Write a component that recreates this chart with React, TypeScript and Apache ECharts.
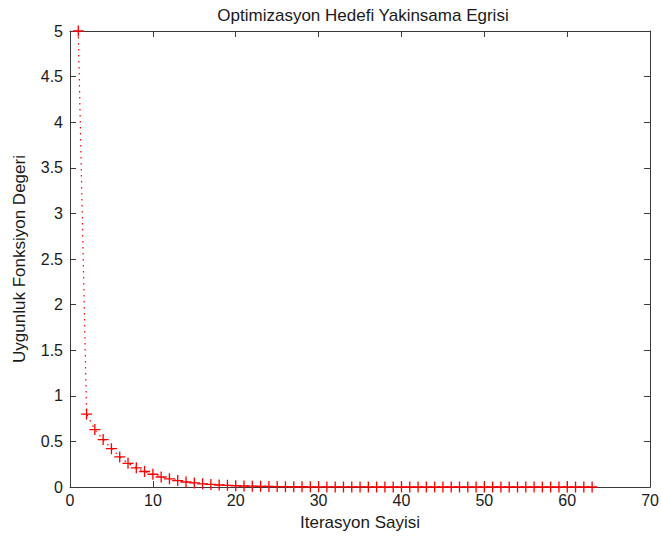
import React, { useEffect, useRef } from "react";
import * as echarts from "echarts";

const iterations: number[] = Array.from({ length: 63 }, (_, i) => i + 1);
const fitnessValues: number[] = [
  5, 0.8, 0.63, 0.52, 0.42, 0.33, 0.26, 0.21, 0.17, 0.14,
  0.11, 0.09, 0.07, 0.055, 0.045, 0.035, 0.028, 0.022, 0.018, 0.014,
  0.011, 0.009, 0.007, 0.006, 0.005, 0.004, 0.003, 0.0025, 0.002, 0.0016,
  0.0013, 0.001, 0.0008, 0.0007, 0.0005, 0.0004, 0.0003, 0.0003, 0.0002, 0.0002,
  0.0001, 0.0001, 0.0001, 0.0001, 0.0001, 0, 0, 0, 0, 0,
  0, 0, 0, 0, 0, 0, 0, 0, 0, 0,
  0, 0, 0,
];
const xTicks = { min: 0, max: 70, interval: 10 };
const yTicks = { min: 0, max: 5, interval: 0.5 };

const FONT = "'Liberation Sans', Arial, sans-serif";
const AXIS_COLOR = "#3a3a3a";
const TEXT_COLOR = "#1a1a1a";
const PLUS = "path://M4.4,0H5.6V4.4H10V5.6H5.6V10H4.4V5.6H0V4.4H4.4Z";

export default function App() {
  const ref = useRef<HTMLDivElement>(null);
  useEffect(() => {
    if (!ref.current) return;
    const chart = echarts.init(ref.current, null, { renderer: "svg" });
    const axisLine = { show: true, onZero: false, lineStyle: { color: AXIS_COLOR, width: 1 } };
    const axisTick = { show: true, inside: true, length: 6, lineStyle: { color: AXIS_COLOR } };
    chart.setOption({
      animation: false,
      backgroundColor: "#fff",
      title: {
        text: "Optimizasyon Hedefi Yakinsama Egrisi",
        left: 358,
        textAlign: "center",
        top: 2,
        textStyle: { fontFamily: FONT, fontSize: 17, fontWeight: "normal", color: TEXT_COLOR },
      },
      grid: { left: 70, right: 8, top: 31, bottom: 58 },
      xAxis: [
        {
          type: "value",
          ...xTicks,
          name: "Iterasyon Sayisi",
          nameLocation: "middle",
          nameGap: 27,
          nameTextStyle: { fontFamily: FONT, fontSize: 17, color: TEXT_COLOR },
          axisLine,
          axisTick,
          splitLine: { show: false },
          axisLabel: { fontFamily: FONT, fontSize: 16, color: TEXT_COLOR, margin: 5 },
        },
        {
          type: "value",
          ...xTicks,
          position: "top",
          axisLine,
          axisTick,
          splitLine: { show: false },
          axisLabel: { show: false },
        },
      ],
      yAxis: [
        {
          type: "value",
          ...yTicks,
          name: "Uygunluk Fonksiyon Degeri",
          nameLocation: "middle",
          nameGap: 42,
          nameTextStyle: { fontFamily: FONT, fontSize: 17, color: TEXT_COLOR },
          axisLine,
          axisTick,
          splitLine: { show: false },
          axisLabel: { fontFamily: FONT, fontSize: 16, color: TEXT_COLOR, margin: 7 },
        },
        {
          type: "value",
          ...yTicks,
          position: "right",
          axisLine,
          axisTick,
          splitLine: { show: false },
          axisLabel: { show: false },
        },
      ],
      series: [
        {
          type: "line",
          data: iterations.map((x, i) => [x, fitnessValues[i]]),
          symbol: PLUS,
          symbolSize: 11,
          showAllSymbol: true,
          lineStyle: { color: "#ff0000", width: 1.2, type: [1.5, 4.5] },
          itemStyle: { color: "#ff0000" },
          clip: false,
        },
      ],
    });
    return () => chart.dispose();
  }, []);
  return (
    <div
      ref={ref}
      style={{ position: "fixed", left: 0, top: 0, width: 662, height: 545 }}
    />
  );
}
